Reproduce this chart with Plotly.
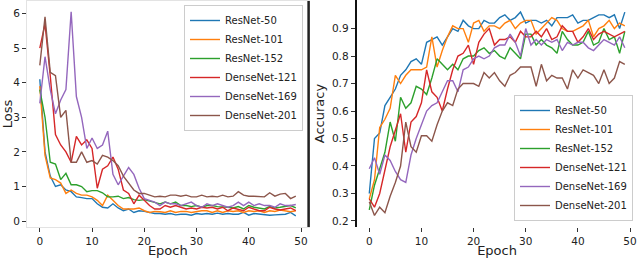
import plotly.graph_objects as go

epochs = list(range(50))
models = ["ResNet-50", "ResNet-101", "ResNet-152", "DenseNet-121", "DenseNet-169", "DenseNet-201"]
colors = ["#1f77b4", "#ff7f0e", "#2ca02c", "#d62728", "#9467bd", "#8c564b"]

loss_resnet50 = [4.1, 2.0, 1.3, 1.0, 1.05, 0.9, 0.85, 0.7, 0.68, 0.65, 0.65, 0.5, 0.4, 0.38, 0.5, 0.38, 0.3, 0.35, 0.25, 0.3,
                 0.28, 0.25, 0.22, 0.22, 0.2, 0.22, 0.18, 0.2, 0.2, 0.17, 0.22, 0.2, 0.22, 0.2, 0.23, 0.2, 0.22, 0.2, 0.2, 0.25,
                 0.17, 0.22, 0.2, 0.2, 0.17, 0.18, 0.2, 0.2, 0.25, 0.15]
loss_resnet101 = [3.9, 1.9, 1.25, 1.2, 1.1, 0.8, 0.9, 0.8, 0.75, 0.75, 0.7, 0.6, 0.45, 0.75, 0.6, 0.45, 0.35, 0.35, 0.35, 0.38,
                  0.3, 0.25, 0.28, 0.27, 0.25, 0.3, 0.25, 0.28, 0.28, 0.25, 0.28, 0.3, 0.3, 0.25, 0.3, 0.25, 0.3, 0.28, 0.3, 0.25,
                  0.3, 0.28, 0.3, 0.25, 0.3, 0.28, 0.32, 0.3, 0.27, 0.3]
loss_resnet152 = [3.8, 3.0, 1.7, 1.65, 1.2, 1.38, 1.05, 1.05, 1.0, 0.85, 0.88, 0.88, 0.82, 0.7, 0.7, 0.72, 0.65, 0.68, 0.62, 0.6,
                  0.62, 0.58, 0.55, 0.5, 0.55, 0.5, 0.55, 0.45, 0.45, 0.42, 0.45, 0.4, 0.45, 0.45, 0.42, 0.42, 0.4, 0.38, 0.42, 0.35,
                  0.45, 0.4, 0.38, 0.35, 0.42, 0.38, 0.4, 0.42, 0.45, 0.38]
loss_densenet121 = [5.0, 5.7, 4.2, 2.5, 2.2, 2.0, 1.7, 2.45, 2.2, 2.35, 2.1, 0.95, 1.5, 1.6, 1.85, 1.5, 0.9, 0.8, 0.5, 0.75,
                    0.6, 0.45, 0.35, 0.35, 0.45, 0.4, 0.45, 0.4, 0.35, 0.38, 0.35, 0.4, 0.38, 0.4, 0.35, 0.4, 0.3, 0.38, 0.35, 0.3,
                    0.4, 0.35, 0.3, 0.3, 0.4, 0.35, 0.32, 0.35, 0.38, 0.3]
loss_densenet169 = [3.4, 4.75, 3.8, 3.1, 3.5, 3.8, 6.05, 3.6, 3.0, 2.1, 2.4, 2.1, 2.2, 2.6, 1.35, 1.05, 1.3, 1.55, 1.35, 0.95,
                    0.65, 0.6, 0.55, 0.45, 0.55, 0.5, 0.5, 0.45, 0.5, 0.55, 0.45, 0.4, 0.5, 0.45, 0.5, 0.45, 0.4, 0.45, 0.55, 0.45,
                    0.55, 0.45, 0.5, 0.45, 0.45, 0.4, 0.5, 0.45, 0.45, 0.48]
loss_densenet201 = [4.5, 5.9, 4.3, 4.2, 3.0, 3.2, 1.7, 1.7, 2.0, 1.7, 1.75, 1.65, 1.9, 1.85, 1.75, 1.6, 1.3, 1.1, 0.9, 0.8,
                    0.8, 0.75, 0.7, 0.72, 0.7, 0.75, 0.75, 0.72, 0.75, 0.7, 0.7, 0.75, 0.7, 0.72, 0.7, 0.75, 0.7, 0.72, 0.85, 0.75,
                    0.72, 0.72, 0.7, 0.7, 0.82, 0.72, 0.78, 0.8, 0.65, 0.72]

acc_resnet50 = [0.30, 0.50, 0.52, 0.62, 0.65, 0.68, 0.73, 0.75, 0.78, 0.79, 0.77, 0.85, 0.86, 0.87, 0.84, 0.87, 0.90, 0.89, 0.93, 0.91,
                0.90, 0.90, 0.93, 0.92, 0.92, 0.94, 0.95, 0.93, 0.94, 0.96, 0.92, 0.93, 0.93, 0.92, 0.93, 0.91, 0.94, 0.94, 0.94, 0.95,
                0.92, 0.93, 0.93, 0.94, 0.95, 0.95, 0.94, 0.95, 0.90, 0.96]
acc_resnet101 = [0.28, 0.35, 0.54, 0.57, 0.61, 0.73, 0.70, 0.73, 0.75, 0.75, 0.75, 0.76, 0.87, 0.76, 0.82, 0.87, 0.91, 0.90, 0.90, 0.85,
                 0.92, 0.93, 0.89, 0.91, 0.91, 0.90, 0.92, 0.93, 0.90, 0.92, 0.93, 0.93, 0.88, 0.90, 0.92, 0.94, 0.93, 0.90, 0.89, 0.89,
                 0.90, 0.91, 0.93, 0.87, 0.90, 0.91, 0.93, 0.90, 0.92, 0.91]
acc_resnet152 = [0.24, 0.33, 0.39, 0.45, 0.56, 0.49, 0.65, 0.61, 0.63, 0.69, 0.68, 0.66, 0.72, 0.79, 0.77, 0.75, 0.77, 0.75, 0.79, 0.80,
                 0.80, 0.82, 0.83, 0.81, 0.82, 0.80, 0.79, 0.83, 0.81, 0.79, 0.88, 0.88, 0.84, 0.86, 0.84, 0.83, 0.81, 0.89, 0.86, 0.84,
                 0.84, 0.85, 0.89, 0.84, 0.85, 0.90, 0.86, 0.87, 0.81, 0.89]
acc_densenet121 = [0.28, 0.25, 0.30, 0.38, 0.47, 0.53, 0.59, 0.45, 0.56, 0.58, 0.63, 0.75, 0.67, 0.65, 0.60, 0.68, 0.75, 0.80, 0.81, 0.84,
                   0.77, 0.85, 0.88, 0.90, 0.84, 0.86, 0.86, 0.87, 0.85, 0.89, 0.87, 0.87, 0.89, 0.87, 0.90, 0.86, 0.87, 0.91, 0.89, 0.89,
                   0.85, 0.87, 0.90, 0.86, 0.88, 0.89, 0.88, 0.87, 0.88, 0.89]
acc_densenet169 = [0.39, 0.43, 0.37, 0.44, 0.42, 0.38, 0.35, 0.34, 0.44, 0.50, 0.55, 0.60, 0.62, 0.63, 0.67, 0.71, 0.71, 0.67, 0.75, 0.76,
                   0.79, 0.80, 0.79, 0.80, 0.83, 0.84, 0.84, 0.88, 0.85, 0.80, 0.90, 0.84, 0.86, 0.84, 0.86, 0.85, 0.86, 0.82, 0.85, 0.84,
                   0.85, 0.85, 0.83, 0.82, 0.84, 0.86, 0.85, 0.84, 0.87, 0.83]
acc_densenet201 = [0.27, 0.22, 0.25, 0.23, 0.29, 0.34, 0.40, 0.56, 0.47, 0.45, 0.51, 0.51, 0.49, 0.55, 0.60, 0.63, 0.62, 0.68, 0.70, 0.70,
                   0.70, 0.69, 0.74, 0.72, 0.74, 0.71, 0.69, 0.73, 0.74, 0.76, 0.76, 0.76, 0.69, 0.77, 0.71, 0.73, 0.72, 0.72, 0.68, 0.75,
                   0.72, 0.75, 0.74, 0.73, 0.70, 0.75, 0.70, 0.72, 0.78, 0.77]

loss_series = [loss_resnet50, loss_resnet101, loss_resnet152, loss_densenet121, loss_densenet169, loss_densenet201]
acc_series = [acc_resnet50, acc_resnet101, acc_resnet152, acc_densenet121, acc_densenet169, acc_densenet201]

loss_ticks = [0, 1, 2, 3, 4, 5, 6]
acc_ticks = [0.2, 0.3, 0.4, 0.5, 0.6, 0.7, 0.8, 0.9]
epoch_ticks = [0, 10, 20, 30, 40, 50]

FONT = "DejaVu Sans"
fig = go.Figure()
for name, col, ys in zip(models, colors, loss_series):
    fig.add_trace(go.Scatter(x=epochs, y=ys, mode="lines", name=name, line=dict(color=col, width=1.4),
                             xaxis="x", yaxis="y", legend="legend"))
for name, col, ys in zip(models, colors, acc_series):
    fig.add_trace(go.Scatter(x=epochs, y=ys, mode="lines", name=name, line=dict(color=col, width=1.4),
                             xaxis="x2", yaxis="y2", legend="legend2"))

tickfont = dict(family=FONT, size=10.5, color="#222")
titlefont = dict(family=FONT, size=13, color="#222")
common_x = dict(range=[-2.45, 51.45], tickvals=epoch_ticks, ticks="outside", ticklen=4, tickcolor="#333",
                showgrid=False, zeroline=False, tickfont=tickfont, automargin=False,
                title=dict(text="Epoch", font=titlefont, standoff=1))

legend_common = dict(font=dict(family=FONT, size=10, color="#222"), bgcolor="rgba(255,255,255,0.85)",
                     bordercolor="#cccccc", borderwidth=1, tracegroupgap=0, itemwidth=30)

fig.update_layout(
    width=640, height=258, margin=dict(l=0, r=0, t=0, b=0),
    paper_bgcolor="white", plot_bgcolor="white",
    xaxis=dict(domain=[27/640, 308.6/640], anchor="y", showline=True, linecolor="#e3e3e3", mirror=True, **common_x),
    yaxis=dict(domain=[31/258, 257/258], anchor="x", range=[-0.17, 6.36], tickvals=loss_ticks,
               ticks="outside", ticklen=4, tickcolor="#333", showgrid=False, zeroline=False,
               showline=True, linecolor="#e3e3e3", mirror=True,
               tickfont=tickfont, automargin=False, title=dict(text="Loss", font=titlefont, standoff=2)),
    xaxis2=dict(domain=[356.5/640, 637.6/640], anchor="y2", showline=False, **common_x),
    yaxis2=dict(domain=[31/258, 258/258], anchor="x2", range=[0.178, 1.004], tickvals=acc_ticks,
                tickformat=".1f", ticks="outside", ticklen=4, tickcolor="#333", showgrid=False, zeroline=False,
                showline=True, linecolor="#111", linewidth=1.5,
                tickfont=tickfont, automargin=False, title=dict(text="Accuracy", font=titlefont, standoff=4)),
    legend=dict(x=303/640, y=253/258, xanchor="right", yanchor="top", **legend_common),
    legend2=dict(x=633/640, y=37/258, xanchor="right", yanchor="bottom", **legend_common),
    shapes=[dict(type="line", xref="x domain", yref="y domain", x0=1, x1=1, y0=0, y1=1,
                 line=dict(color="#222", width=2.5))],
    showlegend=True,
)

fig.write_html("out.html", config={"displayModeBar": False},
               post_script="document.body.style.margin='0px';")
